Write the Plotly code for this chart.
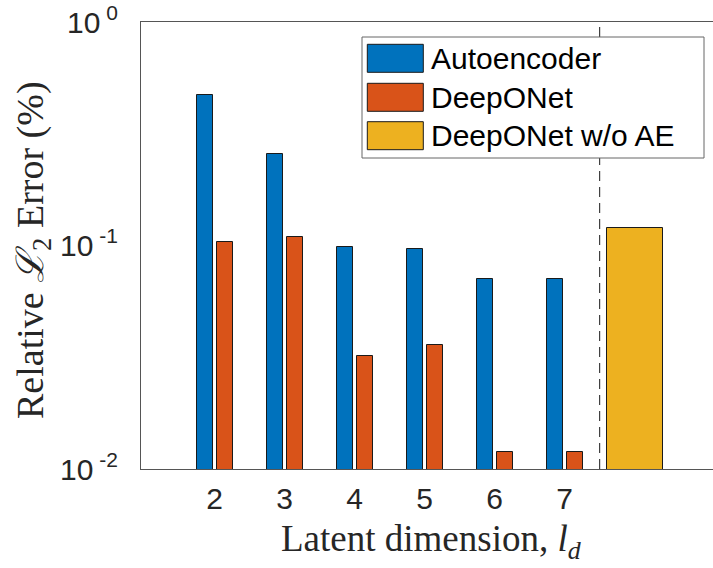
import plotly.graph_objects as go

# Relative L2 error per latent dimension
latent_dims = [2, 3, 4, 5, 6, 7]
autoencoder_err = [0.472, 0.257, 0.0986, 0.0960, 0.0705, 0.0705]
deeponet_err = [0.1038, 0.1086, 0.0319, 0.0357, 0.01195, 0.0119]
# Baseline without autoencoder, drawn after the separator
baseline_pos = [8]
deeponet_noae_err = [0.1192]

series_names = ["Autoencoder", "DeepONet", "DeepONet w/o AE"]
series_colors = ["#0072BD", "#D95319", "#EDB120"]

y_tickvals = [0.01, 0.1, 1]
y_ticktext = ["10<sup> -2</sup>", "10<sup> -1</sup>", "10<sup> 0</sup>"]
x_tickvals = latent_dims
x_ticktext = [str(d) for d in latent_dims]

W, H = 713, 568
ML, MR, MT, MB = 141, 0, 22, 99
PW, PH = W - ML - MR, H - MT - MB


def px(xpix):
    return (xpix - ML) / PW


def py(ypix):
    return (H - MB - ypix) / PH


edge = dict(color="#1a1a1a", width=1)
bar_w = 0.229

fig = go.Figure()
fig.add_trace(go.Bar(x=latent_dims, y=autoencoder_err, width=bar_w, offset=-0.257,
                     marker=dict(color=series_colors[0], line=edge),
                     name=series_names[0], showlegend=False))
fig.add_trace(go.Bar(x=latent_dims, y=deeponet_err, width=bar_w, offset=0.029,
                     marker=dict(color=series_colors[1], line=edge),
                     name=series_names[1], showlegend=False))
fig.add_trace(go.Bar(x=baseline_pos, y=deeponet_noae_err, width=0.8, offset=-0.4,
                     marker=dict(color=series_colors[2], line=edge),
                     name=series_names[2], showlegend=False))

shapes = []
# separator between latent-dimension groups and the baseline
shapes.append(dict(type="line", xref="x", yref="paper", x0=7.5, x1=7.5, y0=0, y1=1,
                   line=dict(color="#1a1a1a", width=1, dash="10px,6px"), layer="above"))

# legend box
lx0, lx1, ly0, ly1 = 362, 704, 37, 158
shapes.append(dict(type="rect", xref="paper", yref="paper",
                   x0=px(lx0), x1=px(lx1), y0=py(ly1), y1=py(ly0),
                   fillcolor="white", line=dict(color="#666666", width=1), layer="above"))

annotations = []
row_tops = [44.3, 83.3, 121.7]
patch_h = 28
for name, color, top in zip(series_names, series_colors, row_tops):
    shapes.append(dict(type="rect", xref="paper", yref="paper",
                       x0=px(367.3), x1=px(423.3), y0=py(top + patch_h), y1=py(top),
                       fillcolor=color, line=dict(color="#1a1a1a", width=1), layer="above"))
    annotations.append(dict(xref="paper", yref="paper", x=px(428.5), y=py(top + patch_h / 2),
                            text=name, showarrow=False, xanchor="left", yanchor="middle",
                            font=dict(family="Liberation Sans, Arial", size=30, color="#000000")))

serif = "Liberation Serif, Times New Roman, serif"
annotations.append(dict(xref="paper", yref="paper", x=px(431), y=py(541),
                        text="Latent dimension, <i>l<sub>d</sub></i>", showarrow=False,
                        xanchor="center", yanchor="middle",
                        font=dict(family=serif, size=37, color="#262626")))
annotations.append(dict(xref="paper", yref="paper", x=px(33), y=py(250),
                        text="Relative <i>ℒ</i><sub>2</sub> Error (%)", showarrow=False,
                        textangle=-90, xanchor="center", yanchor="middle",
                        font=dict(family=serif, size=38, color="#262626")))

fig.update_layout(
    width=W, height=H,
    margin=dict(l=ML, r=MR, t=MT, b=MB, pad=0),
    paper_bgcolor="white", plot_bgcolor="white",
    barmode="overlay", bargap=0,
    showlegend=False,
    shapes=shapes, annotations=annotations,
    xaxis=dict(range=[0.947, 9.119], tickvals=x_tickvals, ticktext=x_ticktext,
               showgrid=False, zeroline=False, showline=True, linecolor="#555555",
               linewidth=1, mirror=True, ticks="", ticklabelstandoff=3,
               tickfont=dict(family="Liberation Sans, Arial", size=30, color="#262626")),
    yaxis=dict(type="log", range=[-2, 0], tickvals=y_tickvals, ticktext=y_ticktext,
               showgrid=False, zeroline=False, showline=True, linecolor="#555555",
               linewidth=1, mirror=False, ticks="", ticklabelstandoff=16,
               tickfont=dict(family="Liberation Sans, Arial", size=30, color="#262626")),
)

fig.write_html("out.html")
